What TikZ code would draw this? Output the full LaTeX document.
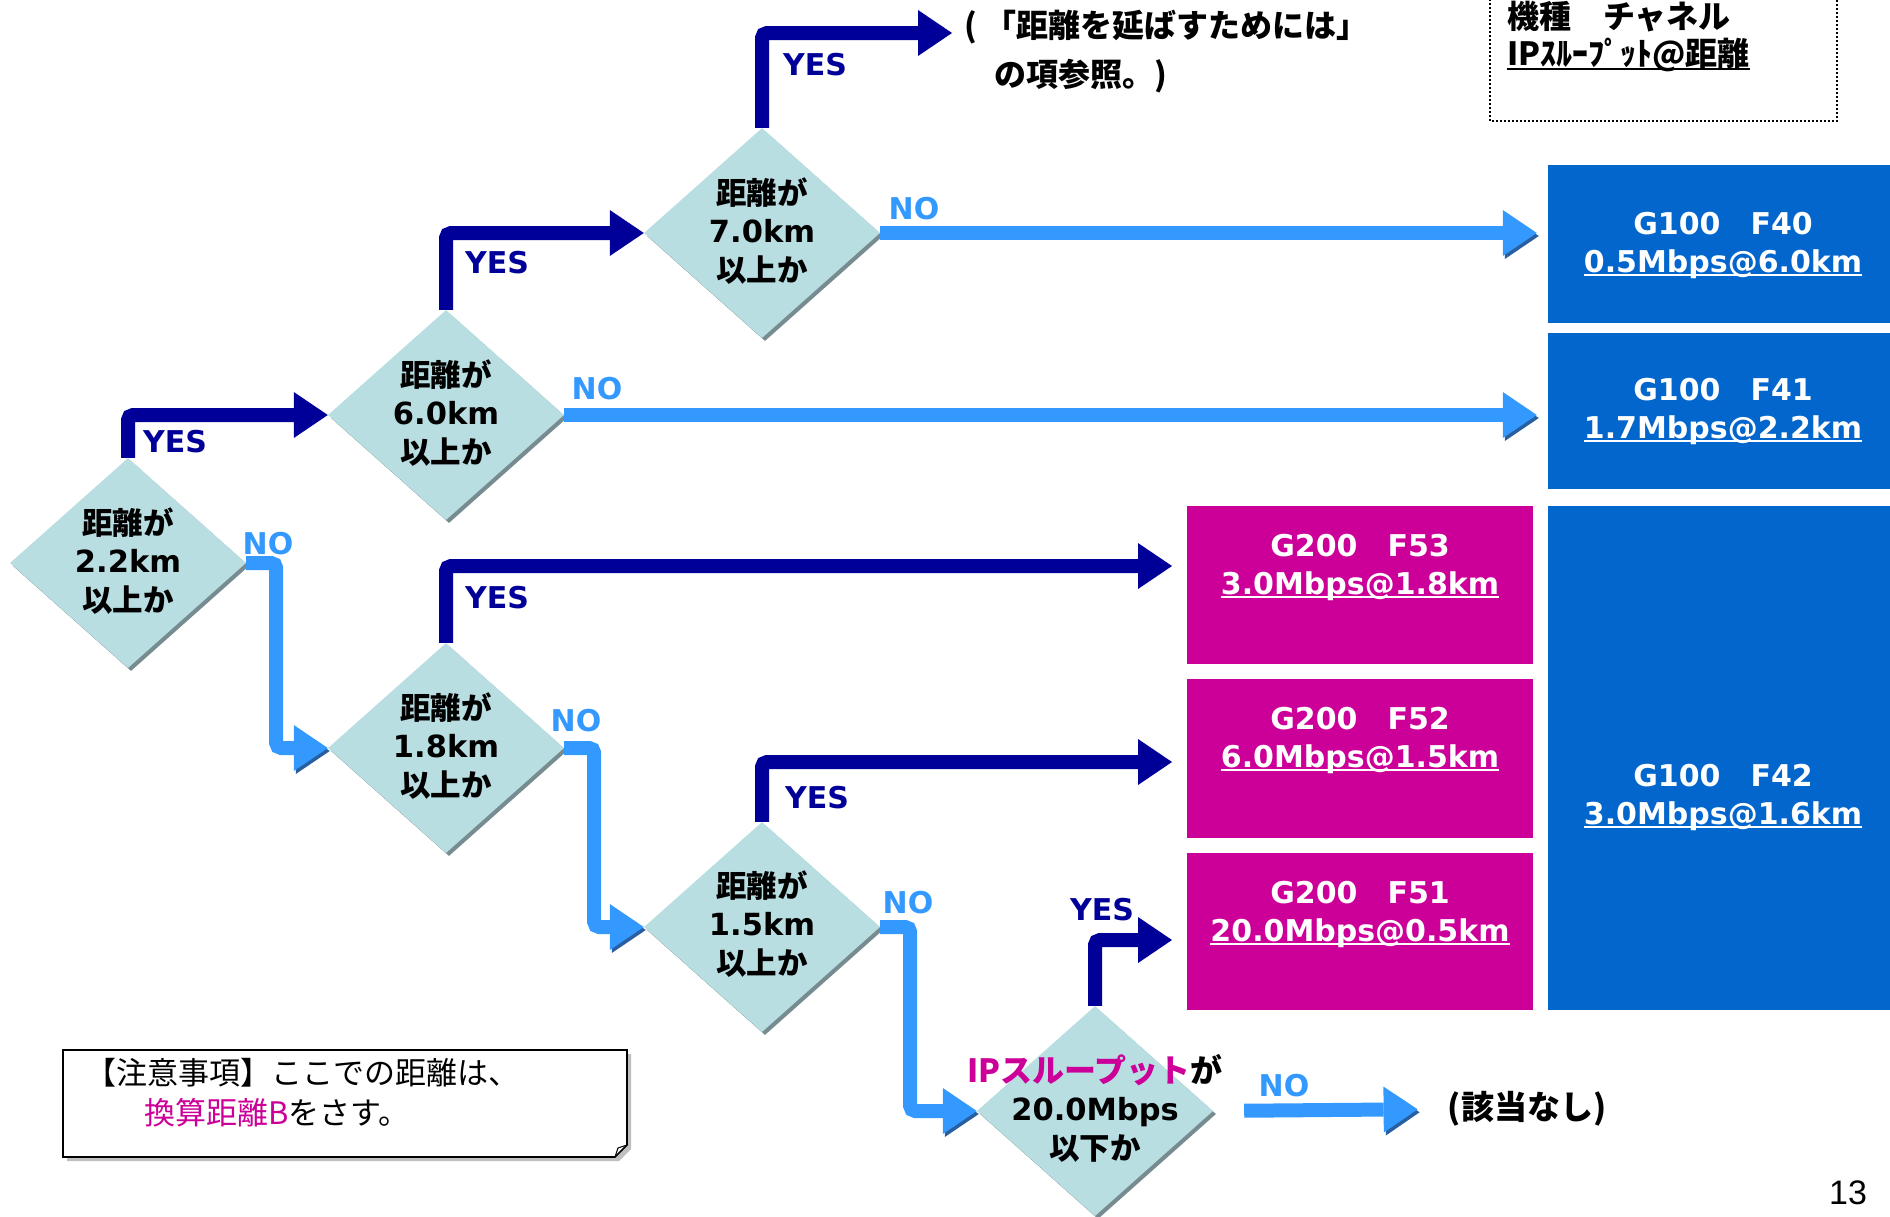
\documentclass[tikz,border=0pt]{standalone}
\usepackage{fontspec}
\setmainfont{DejaVu Sans}
\newfontfamily\jp{Noto Sans CJK JP}
\newfontfamily\arialf{Liberation Sans}
\usetikzlibrary{arrows.meta,shapes.geometric,shadows,calc}
\definecolor{navy}{RGB}{0,0,153}
\definecolor{lblue}{RGB}{51,153,255}
\definecolor{lshadow}{RGB}{40,95,160}
\definecolor{dfill}{RGB}{184,222,226}
\definecolor{dshadow}{RGB}{118,140,145}
\definecolor{bbox}{RGB}{3,102,204}
\definecolor{mbox}{RGB}{204,0,153}
\newcommand\myul[1]{\setbox0\hbox{#1}\rlap{\rule[-0.13em]{\wd0}{0.06em}}\box0}
\tikzset{
  dia/.style={shape=diamond, fill=dfill, minimum width=236pt, minimum height=210pt, inner sep=0pt,
    drop shadow={shadow xshift=3pt, shadow yshift=-3pt, fill=dshadow, opacity=1}},
  arr/.style={line width=14pt, rounded corners=5pt, -{Triangle[length=34pt,width=46pt,line width=0pt]}},
  yesarr/.style={arr, draw=navy},
  noarr/.style={arr, draw=lblue, preaction={draw=lshadow, transform canvas={shift={(2pt,-3pt)}}}},
  yeslab/.style={text=navy, font=\bfseries\fontsize{30}{30}\selectfont, inner sep=0pt},
  nolab/.style={text=lblue, font=\bfseries\fontsize{30}{30}\selectfont, inner sep=0pt},
  dtext/.style={align=center, font=\bfseries\fontsize{30.5}{38.5}\selectfont, inner sep=0pt},
  bluebox/.style={rectangle, fill=bbox, inner sep=0pt},
  magbox/.style={rectangle, fill=mbox, inner sep=0pt},
  boxtext/.style={text=white, align=center, font=\bfseries\fontsize{30}{38}\selectfont, inner sep=0pt},
  jptext/.style={font=\jp\bfseries\fontsize{32}{32}\selectfont, inner sep=0pt},
  notetext/.style={font=\jp\fontsize{31}{31}\selectfont, inner sep=0pt, anchor=west},
}
\begin{document}
\begin{tikzpicture}[x=1pt,y=-1pt]
\useasboundingbox (0,0) rectangle (1890,1216);
% result boxes
\node[bluebox, minimum width=344pt, minimum height=158pt] (f40) at (1720,244) {};
\node[bluebox, minimum width=344pt, minimum height=156pt] (f41) at (1720,411) {};
\node[bluebox, minimum width=344pt, minimum height=504pt] (f42) at (1720,758) {};
\node[magbox, minimum width=346pt, minimum height=158pt] (f53) at (1360,585) {};
\node[magbox, minimum width=346pt, minimum height=159pt] (f52) at (1360,758.5) {};
\node[magbox, minimum width=346pt, minimum height=157pt] (f51) at (1360,931.5) {};
\node[boxtext] (f40t) at (1723,245) {G100\hspace{1em}F40\\\myul{0.5Mbps@6.0km}};
\node[boxtext] (f41t) at (1723,411) {G100\hspace{1em}F41\\\myul{1.7Mbps@2.2km}};
\node[boxtext] (f42t) at (1723,797) {G100\hspace{1em}F42\\\myul{3.0Mbps@1.6km}};
\node[boxtext] (f53t) at (1360,567) {G200\hspace{1em}F53\\\myul{3.0Mbps@1.8km}};
\node[boxtext] (f52t) at (1360,740) {G200\hspace{1em}F52\\\myul{6.0Mbps@1.5km}};
\node[boxtext] (f51t) at (1360,914) {G200\hspace{1em}F51\\\myul{20.0Mbps@0.5km}};
% diamonds
\node[dia] (d1) at (128,563) {};
\node[dia] (d2) at (446,415) {};
\node[dia] (d3) at (762,233) {};
\node[dia] (d4) at (446,748) {};
\node[dia] (d5) at (762,927) {};
\node[dia] (d6) at (1095,1111) {};
% other texts
\node[jptext, anchor=west] (ref1) at (964,27) {(\ 「距離を延ばすためには」};
\node[jptext, anchor=west] (ref2) at (994,76) {の項参照。)};
\node[jptext, font=\jp\bfseries\fontsize{33}{33}\selectfont] (none) at (1527,1109) {(該当なし)};
% free arrow ends
\coordinate (c3) at (952,33);
\coordinate (c4) at (1172,566);
\coordinate (c5) at (1172,762);
\coordinate (c6) at (1172,940);
% YES arrows
\draw[yesarr] (d1.north) |- (d2.west);
\draw[yesarr] (d2.north) |- (d3.west);
\draw[yesarr] (d3.north) |- (c3);
\draw[yesarr] (d4.north) |- (c4);
\draw[yesarr] (d5.north) |- (c5);
\draw[yesarr] (d6.north) |- (c6);
% NO arrows
\draw[noarr] (d1.east) -- ++(30,0) |- (d4.west);
\draw[noarr] (d4.east) -- ++(30,0) |- (d5.west);
\draw[noarr] (d5.east) -- ++(30,0) |- (d6.west);
\draw[noarr, shorten >=11pt] (d2.east) -- (d2.east -| f41.west);
\draw[noarr, shorten >=11pt] (d3.east) -- (d3.east -| f40.west);
\draw[noarr, shorten <=31pt, shorten >=30pt] (d6.east) -- (none.west);
% diamond texts
\node[dtext] (d1t) at (128,561) {{\jp 距離が}\\2.2km\\{\jp 以上か}};
\node[dtext] (d2t) at (446,413) {{\jp 距離が}\\6.0km\\{\jp 以上か}};
\node[dtext] (d3t) at (762,231) {{\jp 距離が}\\7.0km\\{\jp 以上か}};
\node[dtext] (d4t) at (446,746) {{\jp 距離が}\\1.8km\\{\jp 以上か}};
\node[dtext] (d5t) at (762,924) {{\jp 距離が}\\1.5km\\{\jp 以上か}};
\node[dtext] (d6t) at (1095,1108) {{\jp\fontsize{32}{38.5}\selectfont\textcolor{mbox}{IPスループット}が}\\20.0Mbps\\{\jp 以下か}};
% labels
\node[yeslab] (l1y) at (175,442) {YES};
\node[nolab] (l1n) at (268,544) {NO};
\node[yeslab] (l2y) at (497,263) {YES};
\node[nolab] (l2n) at (597,389) {NO};
\node[yeslab] (l3y) at (815,65) {YES};
\node[nolab] (l3n) at (914,209) {NO};
\node[yeslab] (l4y) at (497,598) {YES};
\node[nolab] (l4n) at (576,721) {NO};
\node[yeslab] (l5y) at (817,798) {YES};
\node[nolab] (l5n) at (908,903) {NO};
\node[yeslab] (l6y) at (1102,910) {YES};
\node[nolab] (l6n) at (1284,1086) {NO};
% legend box (top right)
\draw[line width=2pt, dash pattern=on 2pt off 2pt] (1490,-5) -- (1490,121) -- (1837,121) -- (1837,-5);
\node[jptext, anchor=west] (h1) at (1507,17) {機種　チャネル};
\node[jptext, anchor=west] (h2) at (1507,55) {\myul{IPｽﾙｰﾌﾟｯﾄ@距離}};
% note box
\fill[black!25] (67,1054) -- (631,1054) -- (631,1149) -- (619,1161) -- (67,1161) -- cycle;
\draw[line width=1.6pt, fill=white] (63,1050) -- (627,1050) -- (627,1145) -- (615,1157) -- (63,1157) -- cycle;
\draw[line width=1pt] (627,1145) -- (618,1148) -- (615,1157);
\node[notetext] (n1) at (85,1073) {【注意事項】ここでの距離は、};
\node[notetext] (n2) at (144,1113) {\textcolor{mbox}{換算距離B}をさす。};
% page number
\node[font=\arialf\fontsize{34}{34}\selectfont, inner sep=0pt] (pg) at (1848,1193) {13};
\end{tikzpicture}
\end{document}
